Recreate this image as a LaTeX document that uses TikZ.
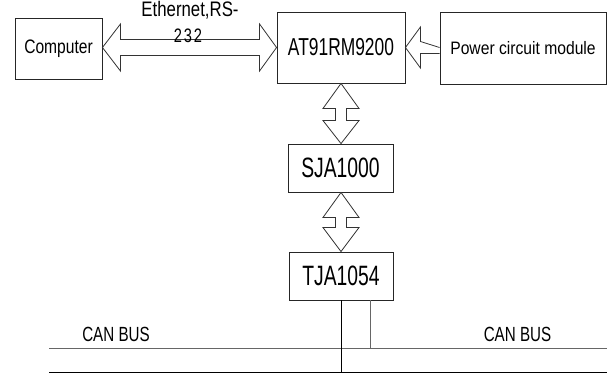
\documentclass[tikz,border=0pt]{standalone}
\usepackage{fontspec}
\setmainfont{Liberation Sans}
\usepackage{graphicx}
\usetikzlibrary{calc}
\newcommand{\sqz}[3]{\scalebox{#2}[1]{\fontsize{#1}{#1}\selectfont #3}}
\tikzset{
  blk/.style={draw=black!85, line width=0.9pt, inner sep=0pt, fill=white},
  fat/.style={draw=black!80, line width=0.8pt, fill=white, line join=miter},
  busup/.style={draw=black!60, line width=1pt},
  buslo/.style={draw=black, line width=1pt},
  lbl/.style={inner sep=0pt, anchor=base}
}
\begin{document}
\begin{tikzpicture}[x=1pt,y=-1pt]
\useasboundingbox (0,0) rectangle (607,375);
% boxes
\node[blk, minimum width=87pt, minimum height=61pt] (comp) at (58.5,48.5) {\sqz{19.5}{0.80}{Computer}};
\node[blk, minimum width=128pt, minimum height=71pt] (at) at (341,47.5) {\sqz{24.5}{0.71}{AT91RM9200}};
\node[blk, minimum width=166pt, minimum height=72pt] (pow) at (523,48) {\sqz{18}{0.87}{Power circuit module}};
\node[blk, minimum width=105pt, minimum height=48pt] (sja) at (340.5,168) {\sqz{28}{0.69}{SJA1000}};
\node[blk, minimum width=104pt, minimum height=48pt] (tja) at (341,276) {\sqz{28}{0.69}{TJA1054}};
% Computer <-> AT91RM9200
\coordinate (L) at (comp.east |- at.west);
\coordinate (R) at (at.west);
\draw[fat] (L) -- ($(L)+(18,-23.5)$) -- ($(L)+(18,-8)$) -- ($(R)+(-17,-8)$) -- ($(R)+(-17,-23.5)$) -- (R)
  -- ($(R)+(-17,23.5)$) -- ($(R)+(-17,8)$) -- ($(L)+(18,8)$) -- ($(L)+(18,23.5)$) -- cycle;
% Power -> AT91RM9200
\coordinate (P) at (at.east);
\coordinate (Q) at (pow.west |- at.east);
\draw[fat] (Q) -- ($(P)+(15,-6)$) -- ($(P)+(15,-20.5)$) -- (P) -- ($(P)+(15,20.5)$) -- ($(P)+(15,6)$) -- ($(Q)+(0,6)$);
% AT91RM9200 <-> SJA1000
\coordinate (T1) at (at.south);
\coordinate (B1) at (sja.north -| at.south);
\draw[fat] (T1) -- ($(T1)+(18,25)$) -- ($(T1)+(5.5,25)$) -- ($(B1)+(5.5,-23)$) -- ($(B1)+(18,-23)$) -- (B1)
  -- ($(B1)+(-18,-23)$) -- ($(B1)+(-5.5,-23)$) -- ($(T1)+(-5.5,25)$) -- ($(T1)+(-18,25)$) -- cycle;
% SJA1000 <-> TJA1054
\coordinate (T2) at (sja.south -| tja.north);
\coordinate (B2) at (tja.north);
\draw[fat] (T2) -- ($(T2)+(18,25)$) -- ($(T2)+(5.5,25)$) -- ($(B2)+(5.5,-24)$) -- ($(B2)+(18,-24)$) -- (B2)
  -- ($(B2)+(-18,-24)$) -- ($(B2)+(-5.5,-24)$) -- ($(T2)+(-5.5,25)$) -- ($(T2)+(-18,25)$) -- cycle;
% Ethernet label
\node[lbl] (eth1) at (190,16) {\sqz{21}{0.80}{Ethernet,RS-}};
\node[lbl] (eth2) at (188,42) {\sqz{19.5}{0.75}{2\kern2.5pt3\kern2.5pt2}};
% CAN bus
\coordinate (busUL) at (49,348);
\coordinate (busUR) at (607,348);
\coordinate (busLL) at (49,372);
\coordinate (busLR) at (607,372);
\draw[busup] (busUL) -- (busUR);
\draw[buslo] (busLL) -- (busLR);
\coordinate (tjaA) at (tja.south);
\coordinate (tjaB) at ($(tja.south)+(29,0)$);
\draw[buslo] (tjaA) -- (tjaA |- busLL);
\draw[busup] (tjaB) -- (tjaB |- busUL);
\node[lbl] (can1) at (116,341.5) {\sqz{20.5}{0.74}{CAN BUS}};
\node[lbl] (can2) at (517.5,341.5) {\sqz{20.5}{0.74}{CAN BUS}};
\end{tikzpicture}
\end{document}
